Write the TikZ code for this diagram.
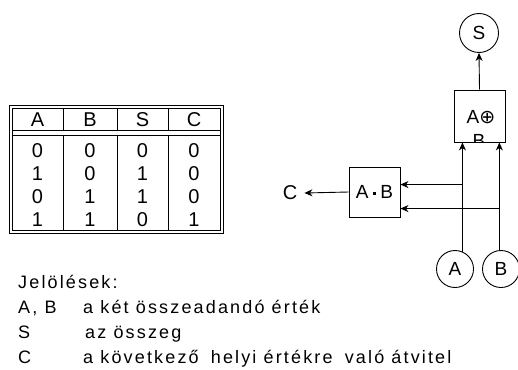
\documentclass[tikz,border=0pt]{standalone}
\usepackage{fontspec}
\setmainfont{Liberation Sans}
\newfontfamily\legfont[LetterSpace=12]{Liberation Sans}
\newfontfamily\symfont{DejaVu Sans}
\usetikzlibrary{arrows.meta,calc}
\begin{document}
\begin{tikzpicture}[x=1pt,y=-1pt,
  ln/.style={line width=0.9pt,draw=black},
  tl/.style={line width=0.8pt},
  arr/.style={ln,-{Stealth[length=8pt,width=7pt,inset=2.5pt]}},
  cell/.style={font=\fontsize{20}{20}\selectfont,inner sep=0pt},
  lbl/.style={font=\legfont\fontsize{18}{18}\selectfont,inner sep=0pt,anchor=base west},
  circ/.style={ln,circle,minimum size=37pt,inner sep=0pt,font=\fontsize{19}{19}\selectfont},
  gate/.style={ln,rectangle,inner sep=0pt,font=\fontsize{19}{19}\selectfont}]
\useasboundingbox (0,0) rectangle (518,369);
% ---- table ----
\draw[tl] (9,105) rectangle (223,233);
\draw[tl] (12,108) rectangle (220,230);
\draw[tl] (12,130) -- (220,130);
\draw[tl] (12,135) -- (220,135);
\foreach \x in {63,117,168}{
  \draw[tl] (\x,108) -- (\x,130);
  \draw[tl] (\x,135) -- (\x,230);
}
\node[cell] (hA) at (37.5,120) {A};
\node[cell] (hB) at (90,120) {B};
\node[cell] (hS) at (142.5,120) {S};
\node[cell] (hC) at (194,120) {C};
\node[cell] (r1a) at (37.5,151) {0}; \node[cell] (r1b) at (90,151) {0}; \node[cell] (r1s) at (142.5,151) {0}; \node[cell] (r1c) at (194,151) {0};
\node[cell] (r2a) at (37.5,174) {1}; \node[cell] (r2b) at (90,174) {0}; \node[cell] (r2s) at (142.5,174) {1}; \node[cell] (r2c) at (194,174) {0};
\node[cell] (r3a) at (37.5,197) {0}; \node[cell] (r3b) at (90,197) {1}; \node[cell] (r3s) at (142.5,197) {1}; \node[cell] (r3c) at (194,197) {0};
\node[cell] (r4a) at (37.5,220) {1}; \node[cell] (r4b) at (90,220) {1}; \node[cell] (r4s) at (142.5,220) {0}; \node[cell] (r4c) at (194,220) {1};
% ---- legend ----
\node[lbl] (leg0) at (18,288) {Jelölések:};
\node[lbl] (leg1) at (18,313) {A, B};
\node[lbl] (leg1t) at (83,313) {a két összeadandó érték};
\node[lbl] (leg2) at (18,338) {S};
\node[lbl] (leg2t) at (85,338) {az összeg};
\node[lbl] (leg3) at (18,363) {C};
\node[lbl] (leg3t) at (83,363) {a következő\hspace{5pt} helyi értékre\hspace{5pt} való átvitel};
% ---- circuit ----
\node[circ,minimum size=39pt] (S) at (479,33) {S};
\node[gate,minimum width=51pt,minimum height=52pt] (xor) at (479.5,116) {};
\begin{scope}
  \clip (xor.south west) rectangle (xor.north east);
  \node[inner sep=0pt,font=\fontsize{19}{19}\selectfont] (xort) at (481,117) {A{\symfont ⊕}};
  \node[inner sep=0pt,font=\fontsize{19}{19}\selectfont,anchor=north] (xorb) at (479,134) {B};
\end{scope}
\node[gate,minimum width=51pt,minimum height=50pt] (and) at (374.5,192)
  {A\hspace{4.5pt}\raisebox{0.33ex}{\rule{2.8pt}{2.8pt}}\hspace{4.5pt}B};
\node[inner sep=7pt,font=\fontsize{20}{20}\selectfont] (C) at (290,193) {C};
\node[circ] (A) at (455,269) {A};
\node[circ] (B) at (501,269) {B};
\coordinate (ja) at (A.67);
\coordinate (jb) at (B.95);
\coordinate (ta) at ($(ja |- and.north)+(0,18)$);
\coordinate (tb) at ($(jb |- and.north)+(0,42)$);
\draw[arr] (xor.north) -- (S.south);
\draw[arr] (ja) -- (ja |- xor.south);
\draw[arr] (jb) -- (jb |- xor.south);
\draw[arr] (ta) -- (ta -| and.east);
\draw[arr] (tb) -- (tb -| and.east);
\draw[arr] (and.west) -- (C.east);
\end{tikzpicture}
\end{document}
